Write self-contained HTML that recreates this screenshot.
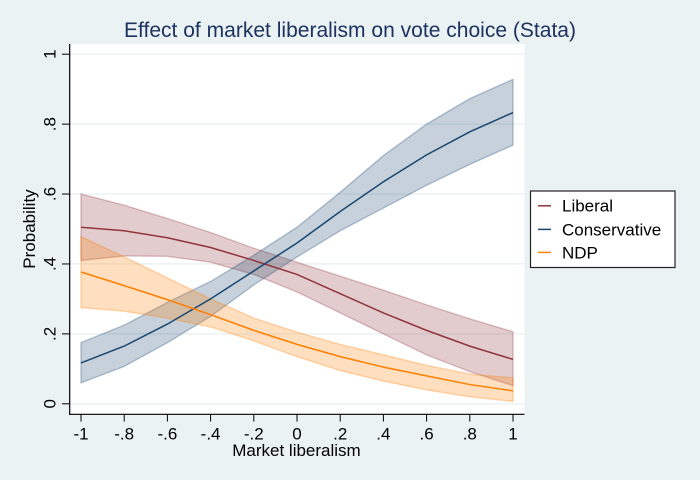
<!DOCTYPE html>
<html>
<head>
<meta charset="utf-8">
<style>
html,body{margin:0;padding:0;background:#eaf2f3;}
svg{display:block;font-family:"Liberation Sans",sans-serif;}
</style>
</head>
<body>
<svg id="chart" width="700" height="480" viewBox="0 0 700 480" xmlns="http://www.w3.org/2000/svg">
<rect x="0" y="0" width="700" height="480" fill="#eaf2f3"/>
<rect x="69.5" y="44" width="455" height="370" fill="#ffffff"/>
<text x="350" y="37" text-anchor="middle" font-size="21" textLength="452" lengthAdjust="spacingAndGlyphs" fill="#1c3360">Effect of market liberalism on vote choice (Stata)</text>
<g id="grid"></g>
<g id="series"></g>
<g id="axes"></g>
<text x="296.5" y="456" text-anchor="middle" font-size="17" fill="#000000">Market liberalism</text>
<text transform="translate(35,229) rotate(-90)" text-anchor="middle" font-size="17" fill="#000000">Probability</text>
<g>
<rect x="530.5" y="191" width="144.5" height="76.5" fill="#ffffff" stroke="#222222" stroke-width="1.2"/>
<line x1="538" x2="551" y1="205.8" y2="205.8" stroke="#90353b" stroke-width="1.5"/>
<text x="562" y="211.7" font-size="17" fill="#000000">Liberal</text>
<line x1="538" x2="551" y1="229.4" y2="229.4" stroke="#1a476f" stroke-width="1.5"/>
<text x="562" y="235.5" font-size="17" fill="#000000">Conservative</text>
<line x1="538" x2="551" y1="252.4" y2="252.4" stroke="#ff7f00" stroke-width="1.5"/>
<text x="562" y="258.3" font-size="17" fill="#000000">NDP</text>
</g>
</svg>
<script>
const xValues = [-1, -0.8, -0.6, -0.4, -0.2, 0, 0.2, 0.4, 0.6, 0.8, 1];
const xTickValues = [-1, -0.8, -0.6, -0.4, -0.2, 0, 0.2, 0.4, 0.6, 0.8, 1];
const xTickLabels = ["-1", "-.8", "-.6", "-.4", "-.2", "0", ".2", ".4", ".6", ".8", "1"];
const yTickValues = [0, 0.2, 0.4, 0.6, 0.8, 1];
const yTickLabels = ["0", ".2", ".4", ".6", ".8", "1"];

const liberalMean = [0.505, 0.495, 0.475, 0.447, 0.41, 0.37, 0.315, 0.26, 0.21, 0.165, 0.127];
const liberalHigh = [0.60, 0.568, 0.53, 0.49, 0.445, 0.405, 0.365, 0.325, 0.283, 0.243, 0.206];
const liberalLow = [0.41, 0.423, 0.422, 0.405, 0.37, 0.32, 0.26, 0.20, 0.14, 0.092, 0.052];

const conservativeMean = [0.117, 0.165, 0.228, 0.30, 0.38, 0.46, 0.55, 0.635, 0.712, 0.778, 0.833];
const conservativeHigh = [0.175, 0.225, 0.29, 0.35, 0.425, 0.505, 0.605, 0.71, 0.80, 0.873, 0.928];
const conservativeLow = [0.06, 0.107, 0.175, 0.25, 0.34, 0.42, 0.495, 0.56, 0.625, 0.685, 0.74];

const ndpMean = [0.377, 0.338, 0.298, 0.255, 0.21, 0.17, 0.135, 0.105, 0.08, 0.055, 0.037];
const ndpHigh = [0.478, 0.42, 0.36, 0.30, 0.245, 0.205, 0.17, 0.14, 0.11, 0.085, 0.074];
const ndpLow = [0.275, 0.265, 0.245, 0.22, 0.18, 0.135, 0.095, 0.065, 0.04, 0.02, 0.007];

const NS = "http://www.w3.org/2000/svg";
function xScale(v) { return 297 + v * 216; }
function yScale(v) { return 403.8 - v * 349.6; }
function make(tag, attrs, parent) {
  const el = document.createElementNS(NS, tag);
  for (const k in attrs) el.setAttribute(k, attrs[k]);
  parent.appendChild(el);
  return el;
}
function pts(xs, ys) {
  return xs.map(function (x, i) { return xScale(x).toFixed(2) + "," + yScale(ys[i]).toFixed(2); });
}

const grid = document.getElementById("grid");
const axes = document.getElementById("axes");
const seriesGroup = document.getElementById("series");

yTickValues.forEach(function (v, i) {
  const y = yScale(v);
  const g = make("line", { x1: 69.5, x2: 524.5, y1: y, y2: y, stroke: "#eaf2f3", "stroke-width": 1.4 }, grid);
  
  
  const t = make("line", { x1: 62, x2: 69.5, y1: y, y2: y, stroke: "#000000", "stroke-width": 1 }, axes);
  
  
  const l = make("text", { transform: "translate(55.5," + y + ") rotate(-90)", "text-anchor": "middle", "font-size": 17, fill: "#000000" }, axes);
  
  
  l.textContent = yTickLabels[i];
});

xTickValues.forEach(function (v, i) {
  const x = xScale(v);
  const t = make("line", { x1: x, x2: x, y1: 414, y2: 421.5, stroke: "#000000", "stroke-width": 1 }, axes);
  
  
  const l = make("text", { x: x, y: 439.5, "text-anchor": "middle", "font-size": 17, fill: "#000000" }, axes);
  
  
  l.textContent = xTickLabels[i];
});

const xAxisLine = make("line", { x1: 69, x2: 524.5, y1: 414.3, y2: 414.3, stroke: "#000000", "stroke-width": 1.2 }, axes);


const yAxisLine = make("line", { x1: 69.7, x2: 69.7, y1: 44, y2: 414.8, stroke: "#000000", "stroke-width": 1.2 }, axes);



function drawBand(low, high, color) {
  const upper = pts(xValues, high);
  const lower = pts(xValues, low).reverse();
  const band = make("polygon", {
    points: upper.concat(lower).join(" "),
    fill: color, "fill-opacity": 0.25,
    stroke: color, "stroke-opacity": 0.3, "stroke-width": 1.4
  }, seriesGroup);
  
  
}
function drawLine(mean, color) {
  const line = make("polyline", {
    points: pts(xValues, mean).join(" "),
    fill: "none", stroke: color, "stroke-width": 1.5
  }, seriesGroup);
  
  
}

drawBand(liberalLow, liberalHigh, "#90353b");
drawBand(conservativeLow, conservativeHigh, "#1a476f");
drawBand(ndpLow, ndpHigh, "#ff7f00");
drawLine(liberalMean, "#90353b");
drawLine(conservativeMean, "#1a476f");
drawLine(ndpMean, "#ff7f00");
</script>
</body>
</html>
